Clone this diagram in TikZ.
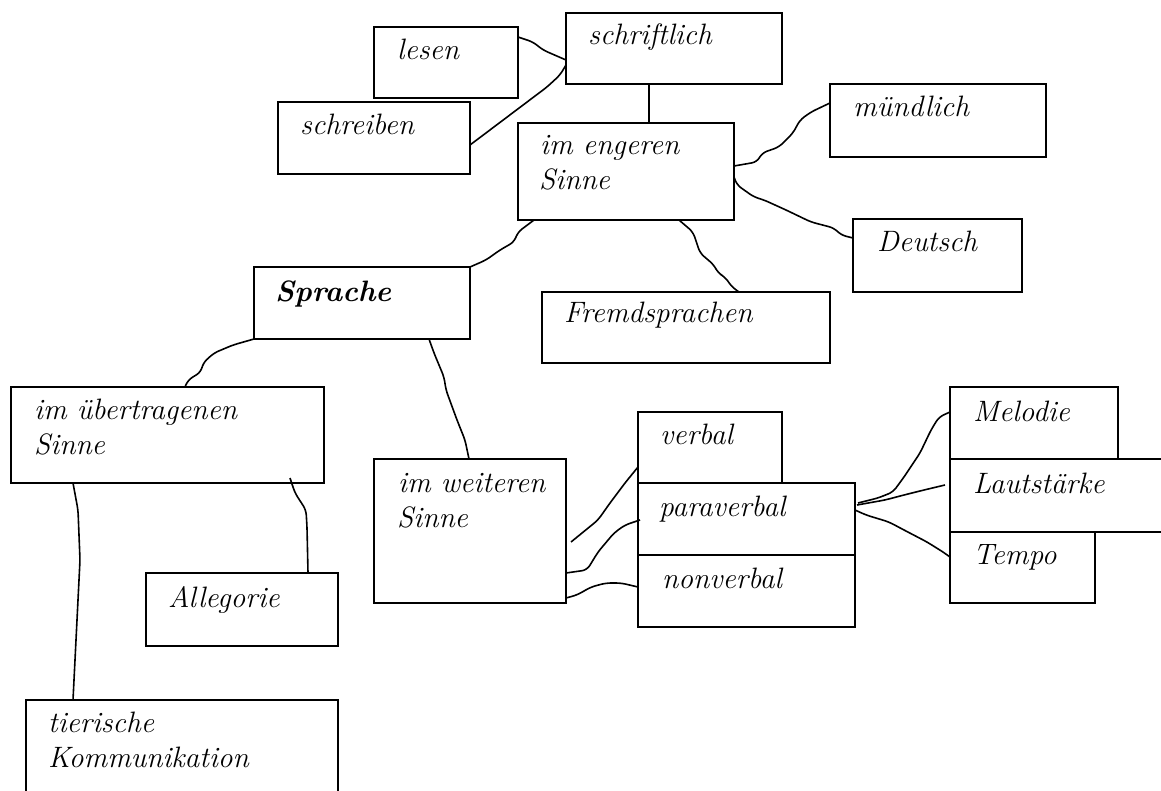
\documentclass[tikz,border=0pt]{standalone}
\tikzset{
  mbox/.style={draw=black, line width=2pt, inner sep=0pt, outer sep=0pt, fill=none},
  link/.style={draw=black, line width=1.6pt, rounded corners=5pt},
  lbl/.style={anchor=base west, inner sep=0pt, font=\fontsize{29.5}{34}\selectfont\itshape},
}
\newcommand\mkbox[5]{\node[mbox, minimum width={(#4-#2)*1pt}, minimum height={(#5-#3)*1pt}] (#1) at ({(#2+#4)/2},{(#3+#5)/2}) {};}
\begin{document}
\begin{tikzpicture}[x=1pt,y=-1pt]
\useasboundingbox (0,0) rectangle (1161,791);
\clip (0,0) rectangle (1161,791);
% boxes
\mkbox{sch}{566}{13}{782}{84}
\mkbox{lesen}{374}{27}{518}{98}
\mkbox{schr}{278}{102}{470}{174}
\mkbox{eng}{518}{123}{734}{220}
\mkbox{mue}{830}{84}{1046}{157}
\mkbox{deu}{853}{219}{1022}{292}
\mkbox{fremd}{542}{292}{830}{363}
\mkbox{spr}{254}{267}{470}{339}
\mkbox{ueb}{11}{387}{324}{483}
\mkbox{all}{146}{573}{338}{646}
\mkbox{wei}{374}{459}{566}{603}
\mkbox{ver}{638}{412}{782}{483}
\mkbox{par}{638}{483}{855}{555}
\mkbox{non}{638}{555}{855}{627}
\mkbox{mel}{950}{387}{1118}{459}
\mkbox{laut}{950}{459}{1180}{532}
\mkbox{tempo}{950}{532}{1095}{603}
\mkbox{tier}{26}{700}{338}{810}
% texts
\node[lbl] (tsch) at (588,45) {schriftlich};
\node[lbl] (tlesen) at (397,60) {lesen};
\node[lbl] (tschr) at (300,135) {schreiben};
\node[lbl] (teng1) at (540,155) {im engeren};
\node[lbl] (teng2) at (539,190) {Sinne};
\node[lbl] (tmue) at (853,117) {mündlich};
\node[lbl] (tdeu) at (877,252) {Deutsch};
\node[lbl] (tfremd) at (564,323) {Fremdsprachen};
\node[lbl, font=\fontsize{29.5}{34}\selectfont\bfseries\itshape] (tspr) at (275,302) {Sprache};
\node[lbl] (tueb1) at (34,419) {im übertragenen};
\node[lbl] (tueb2) at (34,454) {Sinne};
\node[lbl] (tall) at (168,607) {Allegorie};
\node[lbl] (twei1) at (398,492) {im weiteren};
\node[lbl] (twei2) at (397,527) {Sinne};
\node[lbl] (tver) at (660,444) {verbal};
\node[lbl] (tpar) at (659,516) {paraverbal};
\node[lbl] (tnon) at (662,588) {nonverbal};
\node[lbl] (tmel) at (973,421) {Melodie};
\node[lbl] (tlaut) at (973,493) {Lautstärke};
\node[lbl] (ttempo) at (973,564) {Tempo};
\node[lbl] (ttier1) at (48,732) {tierische};
\node[lbl] (ttier2) at (48,767) {Kommunikation};
% connectors
\draw[link] ([yshift=-10pt]lesen.north east) -- (533,42) -- (543,50) -- ([yshift=-47pt]sch.north west);
\draw[link] ([yshift=-43pt]schr.north east) -- (547,87) -- (560,75) -- ([yshift=-52pt]sch.north west);
\draw[link] ([xshift=-25pt]sch.south) -- ([xshift=23pt]eng.north);
\draw[link] ([yshift=-43pt]eng.north east) -- (757,162) -- (762,153) -- (779,147) -- (793,133) -- (800,120) -- (811,112) -- ([yshift=-19pt]mue.north west);
\draw[link] ([yshift=-54pt]eng.north east) -- (737,185) -- (754,197) -- (764,200) -- (786,210) -- (811,222) -- (834,228) -- (841,235) -- ([yshift=-19pt]deu.north west);
\draw[link] ([xshift=53pt]eng.south) -- (693,232) -- (700,253) -- (714,265) -- (718,273) -- (725,277) -- (732,287) -- ([xshift=53pt]fremd.north);
\draw[link] ([xshift=16pt]eng.south west) -- (518,232) -- (514,242) -- (500,250) -- (486,260) -- (spr.north east);
\draw[link] (spr.south west) -- (233,345) -- (214,353) -- (203,363) -- (201,372) -- (188,380) -- ([xshift=174pt]ueb.north west);
\draw[link] ([xshift=-41pt]spr.south east) -- (434,353) -- (444,377) -- (446,390) -- (457,420) -- (465,440) -- ([xshift=95pt]wei.north west);
\draw[link] ([xshift=-34pt,yshift=5pt]ueb.south east) -- (295,493) -- (306,510) -- (307,527) -- ([xshift=-30pt]all.north east);
\draw[link] ([xshift=62pt]ueb.south west) -- (78,510) -- (80,560) -- (77,620) -- ([xshift=47pt]tier.north west);
\draw[link] ([xshift=5pt,yshift=-11pt]wei.east) -- (598,520) -- (610,503) -- (625,483) -- ([yshift=16pt]ver.south west);
\draw[link] ([yshift=-42pt]wei.east) -- (587,570) -- (598,552) -- (614,533) -- (625,525) -- ([xshift=2pt,yshift=-37pt]par.north west);
\draw[link] ([yshift=5pt]wei.south east) -- (577,595) -- (591,587) -- (606,583) -- (621,583) -- ([yshift=-32pt]non.north west);
\draw[link] ([xshift=3pt,yshift=-20pt]par.north east) -- (878,498) -- (893,492) -- (904,477) -- (920,453) -- (931,430) -- (939,417) -- ([yshift=-25pt]mel.north west);
\draw[link] ([xshift=2pt,yshift=-22pt]par.north east) -- (885,500) -- (904,495) -- (924,490) -- ([xshift=-5pt,yshift=-26pt]laut.north west);
\draw[link] ([yshift=-27pt]par.north east) -- (866,515) -- (889,522) -- (904,530) -- (927,542) -- (943,552) -- ([yshift=-25pt]tempo.north west);
\end{tikzpicture}
\end{document}
